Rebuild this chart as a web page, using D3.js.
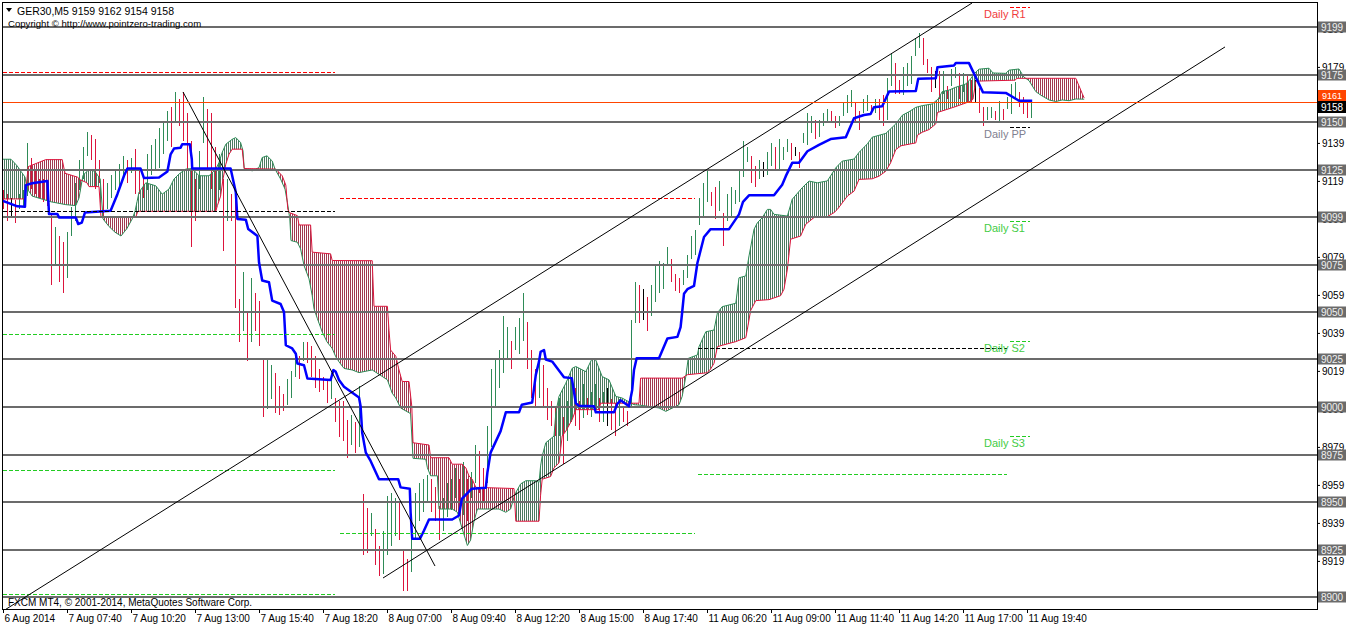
<!DOCTYPE html>
<html><head><meta charset="utf-8">
<script src="https://cdn.jsdelivr.net/npm/d3@7"></script>
<style>
html,body{margin:0;padding:0;background:#fff;}
svg{display:block;font-family:Tahoma,"Liberation Sans",Arial,sans-serif;}
</style></head><body>
<svg id="c" width="1356" height="627"></svg>
<script>
// ---------------- DATA ----------------
const headerText = "GER30,M5  9159 9162 9154 9158";
const copyrightText = "Copyright \u00A9 http://www.pointzero-trading.com";
const footerText = "FXCM MT4, \u00A9 2001-2014, MetaQuotes Software Corp.";

const timeTicks = [0,16,32,48,64,80,96,112,128,144,160,176,192,208,224,240,256];
const timeLabels = ["6 Aug 2014","7 Aug 07:40","7 Aug 10:20","7 Aug 13:00","7 Aug 15:40","7 Aug 18:20",
  "8 Aug 07:00","8 Aug 09:40","8 Aug 12:20","8 Aug 15:00","8 Aug 17:40","11 Aug 06:20","11 Aug 09:00",
  "11 Aug 11:40","11 Aug 14:20","11 Aug 17:00","11 Aug 19:40"];

const priceTicks = [8919,8939,8959,8979,8999,9019,9039,9059,9079,9099,9119,9139,9159,9179,9199];
const levelLines = [8900,8925,8950,8975,9000,9025,9050,9075,9100,9125,9150,9175,9200];
const levelLabels = ["8900","8925","8950","8975","9000","9025","9050","9075","9099","9125","9150","9175","9199"];

const markLine = 9160.7, markLabel = "9161";
const bidPrice = 9158, bidLabel = "9158";

const highs = [
9114,9112,9110,9109,9112,9114,9139,9131,9124,9120,
9120,9116,9102,9095,9090,9087,9092,9105,9118,9130,
9137,9145,9143,9141,9130,9120,9118,9122,9125,9128,
9132,9130,9131,9136,9124,9122,9133,9138,9141,9147,
9150,9156,9158,9166,9162,9166,9155,9140,9120,9135,
9163,9157,9155,9137,9133,9120,9120,9112,9113,9057,
9071,9050,9068,9060,9056,9025,9025,9022,9018,9011,
9007,9015,9019,9028,9027,9034,9034,9032,9027,9020,
9016,9014,9018,9005,9003,9003,8993,8996,8992,9011,
8954,8947,8944,8936,8927,8935,8953,8955,8952,8950,
8925,8920,8940,8955,8960,8962,8964,8962,8958,8948,
8952,8960,8962,8968,8962,8971,8962,8966,8980,8977,
8968,8990,9020,9025,9030,9048,9042,9035,9042,9047,
9060,9045,9030,9020,9025,9022,9010,9003,9000,9005,
8995,9003,9014,9010,9003,9012,9005,9008,9012,9005,
9008,9010,9004,9002,9004,9000,8998,9046,9066,9064,
9062,9058,9064,9074,9077,9076,9084,9078,9070,9068,
9072,9080,9090,9093,9110,9118,9125,9113,9116,9119,
9102,9112,9116,9114,9125,9140,9137,9132,9127,9130,
9129,9134,9139,9137,9141,9137,9141,9139,9137,9134,
9144,9155,9153,9151,9151,9155,9157,9156,9153,9153,
9160,9164,9167,9160,9156,9162,9164,9159,9162,9162,
9164,9173,9186,9181,9172,9179,9181,9185,9194,9197,
9194,9183,9179,9177,9177,9177,9169,9178,9179,9176,
9176,9174,9172,9172,9168,9158,9158,9158,9156,9161,
9157,9163,9170,9171,9166,9163,9160,9161];

const lows = [
9104,9098,9100,9097,9104,9106,9111,9115,9112,9110,
9108,9106,9064,9075,9066,9060,9068,9090,9098,9114,
9120,9132,9130,9115,9118,9100,9104,9110,9114,9116,
9120,9118,9123,9112,9112,9110,9114,9122,9124,9126,
9133,9140,9137,9150,9148,9140,9125,9084,9098,9115,
9139,9125,9115,9103,9114,9082,9098,9098,9052,9034,
9040,9024,9034,9040,9032,8995,8999,9004,8997,8996,
8998,9001,9005,9016,9015,9024,9023,9016,9010,9008,
9009,9002,9004,8992,8984,8982,8973,8980,8976,8979,
8922,8923,8932,8917,8911,8912,8922,8927,8932,8930,
8903,8903,8913,8930,8940,8945,8950,8945,8940,8930,
8935,8942,8946,8952,8945,8943,8940,8952,8960,8955,
8950,8960,8979,9000,9010,9018,9025,9020,9030,9028,
9035,9020,9005,9000,9005,9000,8993,8990,8985,8985,
8970,8982,8992,8990,8988,8994,8996,8995,8997,8992,
8992,8990,8988,8985,8990,8992,8990,9000,9044,9044,
9046,9040,9048,9055,9060,9062,9074,9066,9061,9060,
9064,9068,9078,9080,9096,9100,9108,9106,9099,9103,
9085,9098,9100,9107,9108,9121,9129,9118,9116,9120,
9121,9122,9127,9125,9124,9130,9134,9130,9132,9126,
9139,9138,9144,9141,9142,9148,9150,9150,9147,9148,
9153,9155,9158,9150,9146,9155,9156,9154,9155,9151,
9148,9151,9169,9165,9165,9164,9169,9170,9185,9189,
9180,9176,9166,9168,9162,9165,9162,9169,9173,9162,
9166,9160,9160,9160,9155,9148,9151,9152,9151,9150,
9151,9157,9154,9162,9158,9154,9152,9152];

// Kijun-sen (blue) vertices: [bar, price]
const kijun = [[0,9108.5],[3.6,9105.6],[5.5,9105.4],[5.7,9116.8],[7.3,9117.8],[11.1,9119],[11.5,9101.6],[13.6,9101.6],
[14,9099.8],[18.2,9099.8],[18.8,9096.3],[19.7,9097],[20.5,9102.4],[26.9,9103.3],[28.6,9112],[30.25,9121.7],[31.1,9125.5],
[34.4,9125.5],[35.25,9120.5],[39,9120.8],[41.1,9124],[41.9,9133],[42.75,9136],[44.4,9136.5],[44.8,9138.3],[46.7,9138.3],
[47.2,9130.4],[47.3,9125.5],[56.9,9125.5],[57.3,9121.7],[58.2,9113],[58.6,9099],[60.7,9098.6],[61.3,9093.7],[63.6,9090],
[64,9076.2],[64.8,9066.6],[66.5,9065.7],[67.3,9056],[69.4,9054.2],[70.25,9050],[70.7,9032.5],[72.3,9030.8],[73.2,9028],
[73.6,9022.9],[75.25,9022],[76.1,9015],[81.9,9014.2],[82.6,9019.4],[83.2,9018.5],[84,9014.2],[85.25,9010.7],[89,9005],
[89.4,9000.4],[89.8,8986.4],[90.7,8976],[91.9,8971.6],[94,8962],[98.8,8962],[99.4,8957.7],[101.7,8957],[101.9,8944.6],
[102.3,8930.7],[104.25,8930.7],[105.25,8935],[106.5,8940.8],[112.3,8940.8],[114,8942.9],[114.7,8951.6],[117.2,8957],
[120.7,8957.5],[121.1,8965.5],[121.9,8976],[124.4,8987.3],[125.7,8997.2],[129,8997.2],[129.7,9001.2],[132.3,9002.4],
[133.2,9016.9],[134,9023.9],[134.4,9029],[135.25,9030],[135.7,9025],[137.3,9023.9],[140.25,9015.7],[142.2,9015.2],
[143.2,9002],[144,9000.7],[147.75,9000.4],[148.2,8997.2],[152.75,8997.2],[153.6,9001.7],[154.4,9003.5],[156.5,9000.4],
[157.3,9009],[157.75,9019.5],[158.4,9025.6],[164,9025.6],[166.1,9036],[168.6,9036.9],[169.4,9042],[169.8,9050],
[170.25,9059.6],[171.1,9062],[172.75,9063.7],[173.6,9075.8],[175.25,9089.5],[176.9,9093.6],[181.5,9093.6],[184,9101.4],
[185,9108],[186.5,9111.4],[192.75,9111.4],[194.8,9117],[195.7,9121.5],[197.3,9128.5],[199,9128.5],[201.1,9134.6],
[204,9138],[206.9,9141],[210.7,9142],[212.75,9152],[215.25,9153.7],[216.9,9154.2],[217.75,9157.8],[219.8,9158.3],
[221.5,9166],[228.2,9166.3],[228.8,9172.7],[233.2,9173],[233.6,9178.8],[237.75,9179.7],[238.2,9181],[241.5,9181],
[245,9165.6],[250.7,9165.3],[254,9161.2],[257.3,9161.2]];

// Senkou Span A (green edge) vertices
const spanA = [[0,9130.4],[2,9130.4],[3.5,9127],[4.5,9124],[5.5,9121],[6,9115],[7.3,9111],[9.8,9109.4],[12,9108],
[15.7,9106.5],[18.2,9106],[19,9110],[20,9122],[21.5,9125],[23,9124],[24.3,9120],[25,9099],[26.5,9095],[28,9092],
[29.5,9090],[31,9094],[32.3,9099],[33,9103],[33.5,9108],[34,9113],[35.7,9118],[38.2,9116.4],[39.8,9112],[41.5,9114.7],
[42.75,9120],[44,9122.6],[45.7,9125.2],[47.3,9125.5],[49,9121.7],[51.5,9121.7],[53.2,9125.2],[54,9128.7],[54.8,9134],
[55.7,9138.3],[57.3,9140.9],[58.2,9141.8],[59.4,9139.2],[60,9134.8],[60.3,9125.5],[62.3,9124.3],[64,9126],[64.8,9131.3],
[66,9132.2],[67.3,9129.5],[68,9125.2],[69.4,9120],[70.5,9114.7],[71.1,9107.7],[71.7,9099],[72,9087.6],[73.6,9086.7],
[74.4,9083.2],[75.25,9074.5],[76.5,9067.5],[77.3,9058.7],[77.75,9051.7],[78.6,9046.5],[79.8,9039.5],[81,9034.3],
[82.3,9030.8],[83.2,9026.4],[84,9023.8],[85.25,9020.3],[87.3,9019.5],[89,9018.1],[92.3,9019.5],[94.8,9016.1],
[96.1,9014.3],[97.3,9007.3],[98.2,9004.7],[99.4,8999.5],[101.9,8996.5],[102.5,8973],[105.7,8972.5],[106.1,8968],
[106.9,8963.8],[108.6,8963.8],[109,8946.3],[112.3,8946.3],[113.6,8944.6],[114.8,8935.9],[116.1,8927.1],[116.9,8930],
[117.75,8939.9],[118.6,8946.3],[124,8946.3],[125.7,8944.6],[126.9,8946.3],[127.75,8952.5],[128.2,8955],[129.4,8959.5],
[130.7,8961.2],[133.2,8961.2],[134,8960.3],[134.4,8969],[134.8,8974.2],[135.7,8981.2],[137.75,8984.7],[138.2,8996.9],
[139,9005.6],[140.7,9012.5],[142.3,9020.4],[143.2,9021.3],[145.7,9018.6],[147.3,9025.6],[148.2,9024.7],[149.8,9016],
[151.5,9014.3],[153.2,9005.6],[154.8,9004.7],[157.75,9001.2],[159.4,9000.9],[164,8999.5],[165.7,8997.7],[169,9001.2],
[169.8,9005.6],[170.7,9016],[171.3,9025.6],[173.6,9027.4],[174,9031.7],[175.7,9039.6],[177.75,9040.5],[178.6,9049.5],
[179.8,9052.8],[183.2,9054.6],[184,9068],[185.7,9069],[186.5,9079.5],[187.75,9093.5],[188.6,9097],[189.8,9099.6],
[191.1,9104],[191.9,9104],[192.75,9101.4],[196.1,9100.5],[197.3,9109.3],[199.8,9115.4],[201.5,9118.9],[203.6,9118],
[206.1,9119],[208.2,9125.9],[209.8,9129.4],[212.75,9130.5],[214,9134],[216.1,9138.5],[217.3,9142],[220.7,9144],
[223.2,9149],[224.8,9153.5],[226.5,9155.4],[228.2,9157.7],[229.8,9158.6],[232.3,9159.5],[233.8,9162.1],[234.8,9166],
[236.5,9166.8],[238.2,9168.3],[240.7,9170],[241.9,9172.7],[242.75,9175.3],[244,9177.8],[246.5,9178.3],[247.5,9175.8],
[250.7,9175.6],[251.5,9177.3],[254,9177.9],[255.25,9173.6],[256.5,9171.8],[258.2,9166],[259.4,9164.2],[261.5,9161.6],
[263.2,9160.8],[264.8,9161.6],[266.5,9161.2],[268.2,9162.1],[270.3,9162]];

// Senkou Span B (red edge) vertices
const spanB = [[0,9109.5],[5.5,9109.5],[6.3,9126.5],[10.7,9130.2],[14.8,9130.2],[15.5,9123],[18.6,9121],[19.4,9119.5],
[21,9118],[21.5,9116],[24,9116],[24.5,9100],[33.2,9100],[33.7,9103],[53.2,9103],[53.6,9106],[54.4,9111],[55,9120],
[55.7,9127.8],[56.5,9133],[57.3,9135.7],[59.8,9135.7],[60.3,9125.5],[68.2,9125.2],[69.8,9121.7],[70.7,9116.8],
[71.2,9104.2],[71.5,9102.4],[73.6,9100.7],[74,9095.8],[76.9,9095.8],[77.3,9081.5],[81.9,9080.6],[82.3,9077.1],
[92.3,9077],[92.75,9053],[96.1,9053],[96.5,9040.4],[96.9,9030],[98.2,9026.7],[99,9019.5],[99.8,9013.4],[101.5,9013.4],
[102.2,9000.3],[102.5,8981.2],[106.5,8980],[106.9,8973.3],[111.5,8973.3],[112.3,8969.9],[114.8,8969.9],[115.7,8968],
[116.5,8963.7],[117.3,8962],[118.2,8957.7],[127.75,8957.1],[128.2,8939.9],[134,8939.9],[134.4,8953.6],[134.8,8962],
[136.9,8963.4],[137.75,8968],[139,8970.6],[139.8,8984.7],[140.7,8987.3],[142.3,8993.4],[143.2,8998.6],[149,8998.6],
[149.4,9002],[159,9002],[159.4,9015.2],[169.8,9015.2],[171.1,9017],[176,9018],[176.9,9020],[177.75,9023],[178.6,9031.7],
[179.8,9032.5],[183.2,9034.4],[185.7,9036.5],[186.1,9041],[186.9,9050.7],[188.2,9056],[191.5,9056.5],[194.4,9058.6],
[195.25,9062],[196.1,9072.6],[196.9,9088.3],[199.4,9090],[200.7,9096.2],[202.75,9099.7],[206.1,9100.2],[207.75,9102.3],
[208.6,9104],[211.1,9111],[212.75,9113.6],[214,9119.8],[217.3,9120.1],[219,9121.5],[220.7,9124.1],[221.9,9128.5],
[223.2,9135.5],[224.5,9137.5],[228.2,9139],[228.6,9143],[229.8,9144.6],[231.5,9146],[233.2,9149],[233.6,9155],
[238,9158],[242,9161],[242.5,9162],[243.2,9171.5],[253,9172],[253.5,9173],[268.2,9173],[269,9169],[269.8,9165],
[270.3,9162.6]];

// Pivot level segments (from bar, to bar, price, kind)
const pivotFrom  = [0,0,0,0,0, 84.25,84.25, 173.75,173.75,173.75];
const pivotTo    = [83,83,83,83,83, 173,173, 251,251,251];
const pivotPrice = [9176.2,9103.2,9038.4,8966.8,8901.6, 9110,8933.7, 9160.5,9031,8964.7];
const pivotKind  = ["R","P","S","S","S", "R","S", "R","P","S"];

// Current daily levels with labels
const dailyNames  = ["Daily R1","Daily PP","Daily S1","Daily S2","Daily S3"];
const dailyPrices = [9210.5,9147.4,9097.9,9034.7,8984.7];
const dailyKinds  = ["R","P","S","S","S"];
const dailyFrom = 251.75, dailyTo = 256.75;

// Trend lines: [[bar, price],[bar, price]]
const trendLines = [
  [[0,8892.6],[242.25,9212.6]],
  [[95,8910],[305.5,9189.5]],
  [[45,9165.8],[108,8916.3]]
];

// ---------------- DRAW ----------------
const svg = d3.select("#c");
const W = 1356, H = 627;
const L = 3, R = 1317, T = 3, B = 609;
const x = d3.scaleLinear().domain([0, 328.5]).range([L, R]);
const y = d3.scaleLinear().domain([8900, 9200]).range([597, 27]);

const GREEN = "#2e8b57", RED = "#dc143c", GRAY = "#6b6b6b", BLUE = "#0000ff", ORANGE = "#ff4500";
const HATCH_G = "#4c7a60", HATCH_R = "#a03a50";
const pivotColor = {R:"#ff0000", P:"#000000", S:"#22cc22"};
const dailyTextColor = {R:"#f03c3c", P:"#7f8090", S:"#44cc44"};
const FONT = 'Tahoma,"Liberation Sans",Arial,sans-serif';

const defs = svg.append("defs");
defs.append("clipPath").attr("id","plotClip").append("rect")
  .attr("x",L).attr("y",T).attr("width",R-L).attr("height",B-T);
function hatch(id, col){
  const p = defs.append("pattern").attr("id",id).attr("patternUnits","userSpaceOnUse")
    .attr("width",2).attr("height",4);
  p.append("rect").attr("x",0).attr("y",0).attr("width",1).attr("height",4).attr("fill",col);
}
hatch("hG", HATCH_G); hatch("hR", HATCH_R);

const lineGen = d3.line().x(d=>x(d[0])).y(d=>y(d[1]));
const bPath = lineGen(spanB);
const b0 = spanB[0], bn = spanB[spanB.length-1];
defs.append("clipPath").attr("id","aboveB").append("path")
  .attr("d", bPath + `L${x(bn[0])},-10L${x(b0[0])},-10Z`);
defs.append("clipPath").attr("id","belowB").append("path")
  .attr("d", bPath + `L${x(bn[0])},${H+10}L${x(b0[0])},${H+10}Z`);

const plot = svg.append("g").attr("clip-path","url(#plotClip)");

// candles
const mid = i => (highs[i]+lows[i])/2;
plot.append("g").attr("shape-rendering","crispEdges").selectAll("line").data(highs).join("line")
  .attr("x1",(d,i)=>Math.round(x(i))+0.5).attr("x2",(d,i)=>Math.round(x(i))+0.5)
  .attr("y1",(d,i)=>Math.round(y(highs[i])))
  .attr("y2",(d,i)=>Math.max(Math.round(y(lows[i])), Math.round(y(highs[i]))+1))
  .attr("stroke",(d,i)=>{
    if(i===0) return RED;
    const a=mid(i), b=mid(i-1);
    return a>b?GREEN:(a<b?RED:"#000");
  }).attr("stroke-width",1);

// cloud
const cloudPoly = lineGen(spanA.concat(spanB.slice().reverse())) + "Z";
plot.append("g").attr("clip-path","url(#aboveB)").append("path")
  .attr("d",cloudPoly).attr("fill","url(#hG)").attr("fill-rule","nonzero");
plot.append("g").attr("clip-path","url(#belowB)").append("path")
  .attr("d",cloudPoly).attr("fill","url(#hR)").attr("fill-rule","nonzero");
plot.append("path").attr("d",lineGen(spanA)).attr("fill","none").attr("stroke",GREEN).attr("stroke-width",1);
plot.append("path").attr("d",bPath).attr("fill","none").attr("stroke",RED).attr("stroke-width",1);

// gray horizontal levels
plot.append("g").attr("shape-rendering","crispEdges").selectAll("line").data(levelLines).join("line")
  .attr("x1",L).attr("x2",R).attr("y1",d=>Math.round(y(d))).attr("y2",d=>Math.round(y(d)))
  .attr("stroke",GRAY).attr("stroke-width",2);

// kijun
plot.append("path").attr("d",lineGen(kijun)).attr("fill","none").attr("stroke",BLUE)
  .attr("stroke-width",2.5).attr("stroke-linejoin","round");

// pivot dashed segments
plot.append("g").attr("shape-rendering","crispEdges").selectAll("line").data(pivotPrice).join("line")
  .attr("x1",(d,k)=>x(pivotFrom[k])).attr("x2",(d,k)=>x(pivotTo[k]))
  .attr("y1",d=>Math.round(y(d))+0.5).attr("y2",d=>Math.round(y(d))+0.5)
  .attr("stroke",(d,k)=>pivotColor[pivotKind[k]]).attr("stroke-width",1).attr("stroke-dasharray","4,2");

// trend lines
plot.append("g").selectAll("line").data(trendLines).join("line")
  .attr("x1",d=>x(d[0][0])).attr("y1",d=>y(d[0][1])).attr("x2",d=>x(d[1][0])).attr("y2",d=>y(d[1][1]))
  .attr("stroke","#000").attr("stroke-width",1);

// orange price line
plot.append("line").attr("shape-rendering","crispEdges").attr("x1",L).attr("x2",R)
  .attr("y1",Math.round(y(markLine))+0.5).attr("y2",Math.round(y(markLine))+0.5)
  .attr("stroke",ORANGE).attr("stroke-width",1);

// daily labels
const dl = svg.append("g");
dl.selectAll("line").data(dailyPrices).join("line").attr("shape-rendering","crispEdges")
  .attr("x1",x(dailyFrom)).attr("x2",x(dailyTo))
  .attr("y1",d=>Math.round(y(d))+0.5).attr("y2",d=>Math.round(y(d))+0.5)
  .attr("stroke",(d,k)=>pivotColor[dailyKinds[k]]).attr("stroke-width",1).attr("stroke-dasharray","4,2");
dl.selectAll("text").data(dailyNames).join("text")
  .attr("x",x(dailyFrom)-26).attr("y",(d,k)=>y(dailyPrices[k])+11)
  .attr("font-size","11px").attr("fill",(d,k)=>dailyTextColor[dailyKinds[k]]).text(d=>d);

// frame
svg.append("rect").attr("x",2.5).attr("y",2.5).attr("width",R-2.5+0.5).attr("height",B-2.5+0.5)
  .attr("fill","none").attr("stroke","#000").attr("stroke-width",1).attr("shape-rendering","crispEdges");

// right axis
const axR = d3.axisRight(y).tickValues(priceTicks).tickSize(3).tickPadding(2).tickFormat(d3.format("d"));
const gR = svg.append("g").attr("transform",`translate(${R},0)`).call(axR);
gR.select(".domain").remove();
gR.selectAll("text").attr("font-size","10px").attr("font-family",FONT).attr("fill","#000");
gR.selectAll("line").attr("stroke","#000");

// level boxes
const boxes = svg.append("g");
levelLines.forEach((v,k)=>{
  const cy = Math.round(y(v));
  boxes.append("rect").attr("x",R+1).attr("y",cy-5.5).attr("width",28).attr("height",11).attr("fill",GRAY);
  boxes.append("text").attr("x",R+15).attr("y",cy+4).attr("text-anchor","middle")
    .attr("font-size","10px").attr("fill","#f0f0f0").text(levelLabels[k]);
});
// current price marker above the bid box
{
  const cyB = Math.round(y(bidPrice));
  const cyM = Math.round(y(markLine));
  const top = Math.min(cyM - 6, cyB - 17);
  boxes.append("rect").attr("x",R+1).attr("y",top).attr("width",28).attr("height",cyB-6-top+1).attr("fill",ORANGE);
  boxes.append("text").attr("x",R+15).attr("y",cyB-8).attr("text-anchor","middle")
    .attr("font-size","9px").attr("fill","#fff").text(markLabel);
  boxes.append("rect").attr("x",R+1).attr("y",cyB-6).attr("width",28).attr("height",12).attr("fill","#000");
  boxes.append("text").attr("x",R+15).attr("y",cyB+4).attr("text-anchor","middle")
    .attr("font-size","10px").attr("fill","#fff").text(bidLabel);
}

// bottom axis
const axB = d3.axisBottom(x).tickValues(timeTicks).tickSize(4).tickPadding(2).tickFormat((d,k)=>timeLabels[k]);
const gB = svg.append("g").attr("transform",`translate(0,${B})`).call(axB);
gB.select(".domain").remove();
gB.selectAll("line").attr("stroke","#000");
gB.selectAll("text").attr("text-anchor","start").attr("x",1).attr("font-size","10px")
  .attr("font-family",FONT).attr("fill","#000");

// header texts
svg.append("path").attr("d","M6,8L12,8L9,12Z").attr("fill","#000");
svg.append("text").attr("x",17).attr("y",15).attr("font-size","10.5px").attr("fill","#000").text(headerText);
svg.append("text").attr("x",8).attr("y",27).attr("font-size","9.6px").attr("fill","#000").text(copyrightText);
svg.append("text").attr("x",8).attr("y",606).attr("font-size","10px").attr("fill","#000").text(footerText);
</script>
</body></html>
